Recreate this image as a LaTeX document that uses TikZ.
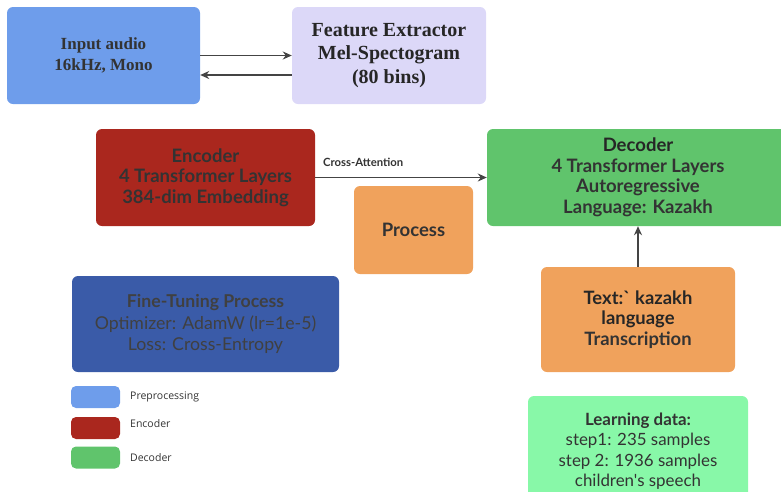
\documentclass[tikz,border=0pt]{standalone}
\usepackage{fontspec}
\setmainfont{Liberation Serif}
\newfontfamily\sansf{Lato}
\newfontfamily\legf{Open Sans}
\usetikzlibrary{arrows.meta}
\definecolor{cin}{HTML}{6E9DEB}
\definecolor{cfe}{HTML}{DCD8F8}
\definecolor{cenc}{HTML}{AA271E}
\definecolor{cproc}{HTML}{F0A25C}
\definecolor{cdec}{HTML}{60C46C}
\definecolor{cft}{HTML}{3A5BA8}
\definecolor{cld}{HTML}{88F8A8}
\definecolor{ctxt}{HTML}{333333}
\definecolor{carr}{HTML}{444444}
\tikzset{
  box/.style={rounded corners=6pt, inner sep=0pt, align=center, text=ctxt},
  arr/.style={draw=carr, line width=1.5pt, -{Stealth[length=9pt,width=8pt]}},
  swatch/.style={rounded corners=5pt, minimum width=49pt, minimum height=22pt, inner sep=0pt},
  leg/.style={anchor=west, text=ctxt, font=\legf\fontsize{10.5}{12}\selectfont, inner sep=0pt}
}
\begin{document}
\begin{tikzpicture}[x=1pt,y=-1pt]
\useasboundingbox (0,0) rectangle (781,491);
\clip (0,0) rectangle (781,491);
% top row
\node[box, fill=cin, minimum width=193pt, minimum height=97pt, font=\bfseries\fontsize{17}{21}\selectfont] (in) at (103.5,55.5) {Input audio\\16kHz, Mono};
\node[box, fill=cfe, minimum width=194pt, minimum height=97pt, font=\bfseries\fontsize{20}{23.5}\selectfont, text=black!85] (fe) at (389,55.5) {Feature Extractor\\Mel-Spectogram\\(80 bins)};
\draw[arr] (in.east) -- (fe.west |- in.east);
\draw[arr] (fe.west |- 0,75) -- (in.east |- 0,75);
% encoder / decoder
\node[box, fill=cenc, minimum width=219pt, minimum height=97pt, font=\sansf\bfseries\fontsize{18.5}{20.5}\selectfont] (enc) at (205.5,177.5) {Encoder\\4 Transformer Layers\\384-dim Embedding};
\node[box, fill=cdec, minimum width=302pt, minimum height=97pt, font=\sansf\bfseries\fontsize{18.5}{20.5}\selectfont] (dec) at (638,177.5) {\textcolor{black!85}{Decoder}\\4 Transformer Layers\\Autoregressive\\Language: Kazakh};
\draw[arr] (enc.east) -- (dec.west);
\node[anchor=west, font=\sansf\bfseries\fontsize{11.3}{13}\selectfont, text=ctxt, inner sep=0pt] (ca) at (323,162) {Cross-Attention};
\node[box, fill=cproc, minimum width=119pt, minimum height=88pt, font=\sansf\bfseries\fontsize{18.5}{20}\selectfont] (proc) at (413.5,230) {Process};
\node[box, fill=cproc, minimum width=194pt, minimum height=105pt, font=\sansf\bfseries\fontsize{18.4}{20.5}\selectfont] (txt) at (638,319.5) {\textcolor{black!85}{Text:` kazakh}\\\textcolor{black!85}{language}\\Transcription};
\draw[arr] (txt.north) -- (dec.south -| txt.north);
% fine tuning
\node[box, fill=cft, minimum width=267pt, minimum height=96pt, font=\sansf\fontsize{17.7}{21.5}\selectfont, text=black!75] (ft) at (205.5,324) {\textbf{Fine-Tuning Process}\\Optimizer: AdamW (lr=1e-5)\\Loss: Cross-Entropy};
% learning data
\node[box, fill=cld, minimum width=220pt, minimum height=110pt, font=\sansf\fontsize{16.9}{20.5}\selectfont, text=black!80] (ld) at (638,451) {\textbf{Learning data:}\\step1: 235 samples\\step 2: 1936 samples\\children's speech};
% legend
\node[swatch, fill=cin] (s1) at (95.5,397) {};
\node[swatch, fill=cenc] (s2) at (95.5,428) {};
\node[swatch, fill=cdec] (s3) at (95.5,457.5) {};
\node[leg] (l1) at (130,397) {Preprocessing};
\node[leg] (l2) at (130,424) {Encoder};
\node[leg] (l3) at (130,457.5) {Decoder};
\end{tikzpicture}
\end{document}
